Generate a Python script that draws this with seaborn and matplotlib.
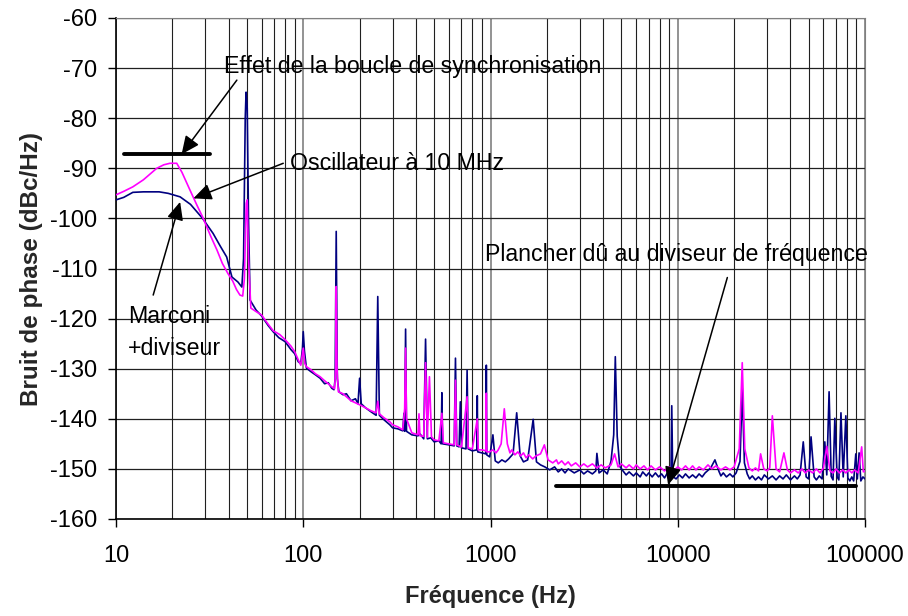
import pandas as pd
import matplotlib.pyplot as plt
import seaborn as sns
from matplotlib.ticker import FixedLocator, NullFormatter

# Marconi + diviseur (navy)
marconi_freq = [10, 11, 12.3, 14, 17, 19, 22, 25, 29, 33,
                36, 39, 41.6, 44.8, 47, 48, 49, 49.5, 50.2, 51,
                52, 56, 60, 65, 69, 74, 80, 86, 90, 94,
                97, 99, 100, 101.5, 104, 110, 116, 123, 130, 136,
                142, 146, 148, 150, 152, 155, 163, 170, 180, 190,
                196, 200, 204, 215, 230, 245, 250, 255, 270, 290,
                300, 320, 340, 345, 348, 352, 356, 380, 410, 420,
                440, 450, 460, 480, 500, 530, 545, 550, 555, 600,
                640, 650, 660, 680, 690, 700, 740, 750, 760, 800,
                845, 850, 855, 900, 945, 950, 955, 990, 1030, 1060,
                1100, 1150, 1200, 1250, 1320, 1380, 1440, 1500, 1580, 1690,
                1760, 1850, 1950, 2070, 2200, 2300, 2400, 2500, 2600, 2800,
                3000, 3150, 3300, 3500, 3650, 3700, 3800, 4000, 4200, 4400,
                4550, 4640, 4750, 4900, 5100, 5300, 5500, 5800, 6000, 6300,
                6500, 6800, 7000, 7300, 7600, 7900, 8200, 8500, 8800, 9200,
                9290, 9400, 9800, 10200, 10600, 11000, 11500, 12000, 12500, 13000,
                13500, 14000, 15000, 15800, 16600, 17000, 17500, 18200, 19000, 19700,
                20500, 21500, 22100, 22700, 23500, 24200, 25000, 26000, 27000, 28000,
                29000, 30500, 32000, 33500, 35000, 36500, 38000, 40000, 42000, 43500,
                45000, 46800, 48500, 50000, 51500, 53500, 55000, 57000, 59000, 61000,
                62500, 64300, 66000, 67500, 69000, 71000, 72500, 74400, 76500, 79000,
                81000, 83000, 85000, 87000, 89300, 91000, 93000, 95000, 97500, 100000]
marconi_level = [-96.3, -95.8, -94.8, -94.7, -94.7, -95.0, -95.7, -97.2, -100.0, -103.0,
                 -105.5, -107.7, -111.7, -112.7, -113.7, -108, -80, -74.8, -78, -100,
                 -116.3, -118.3, -119.5, -121.4, -122.6, -123.8, -124.6, -126.2, -127.0, -128.6,
                 -129.0, -126, -122.6, -126.5, -129.9, -130.6, -131.2, -131.9, -133.0, -132.8,
                 -133.9, -134.2, -132, -102.6, -132, -134.6, -135.2, -135.0, -136.4, -136.0,
                 -137.0, -131.9, -137.0, -137.8, -138.6, -139.3, -115.6, -139.3, -140.2, -141.2,
                 -141.8, -142.0, -142.4, -138.9, -142.5, -122.1, -142.5, -143.2, -143.4, -143.0,
                 -144.0, -124.1, -144.0, -143.8, -144.6, -144.4, -145, -134.8, -145, -145.2,
                 -145.4, -127.9, -145.4, -145.6, -136.6, -145.8, -146, -130.3, -146, -146.4,
                 -146.2, -135.4, -146.6, -146.8, -147, -129.3, -147.2, -147.6, -143.2, -148.4,
                 -148.8, -148.2, -148.6, -148.0, -147.0, -138.8, -147.4, -148.6, -148.2, -140.1,
                 -148.6, -149.2, -149.6, -150.2, -149.6, -150.6, -150.0, -150.8, -150.0, -150.8,
                 -150.2, -151.0, -150.4, -151.0, -150.4, -146.9, -150.8, -150.2, -151.0, -148.5,
                 -143.2, -127.6, -143.5, -149.5, -150.4, -151.2, -150.6, -151.4, -150.8, -151.6,
                 -150.6, -151.4, -150.8, -151.6, -150.8, -151.6, -151.0, -151.8, -150.8, -151.5,
                 -137.4, -151.5, -152.0, -151.2, -151.8, -151.0, -151.8, -151.2, -151.8, -151.0,
                 -151.6, -150.8, -149.8, -148.2, -150.5, -151.4, -150.8, -151.6, -151.0, -151.6,
                 -150.8, -148.5, -133.9, -148.8, -151.0, -152.0, -151.4, -152.2, -151.6, -152.2,
                 -151.2, -152.0, -151.4, -152.2, -151.4, -152.0, -151.2, -152.2, -151.4, -152.0,
                 -151.2, -144.6, -151.6, -152.0, -143.6, -151.6, -152.2, -151.4, -152.0, -144.6,
                 -151.2, -134.6, -151.5, -152.2, -139.9, -151.6, -152.2, -138.8, -151.6, -139.4,
                 -151.8, -152.4, -151.6, -152.4, -147, -152, -146.8, -152.4, -151.6, -152.0]

# Oscillateur a 10 MHz (magenta)
osc_freq = [10, 11, 12.3, 14, 16.5, 18, 19.4, 21.1, 22.5, 24.8,
            27, 29, 32, 34.6, 37, 39.6, 42, 44, 45.9, 47.5,
            48.5, 49.6, 50.2, 51, 52.5, 56, 60, 64, 69, 75,
            80, 86, 90, 94, 97, 100, 102, 104, 110, 116,
            123, 130, 136, 142, 147, 149, 150, 151.5, 154, 163,
            170, 180, 190, 200, 215, 230, 245, 250, 255, 270,
            290, 300, 320, 340, 348, 352, 356, 380, 410, 415,
            420, 440, 450, 460, 472, 484, 500, 530, 550, 560,
            600, 640, 650, 660, 700, 750, 760, 800, 850, 860,
            900, 945, 950, 955, 990, 1030, 1070, 1100, 1140, 1185,
            1230, 1270, 1300, 1350, 1400, 1450, 1500, 1550, 1600, 1680,
            1750, 1850, 1940, 2030, 2150, 2250, 2300, 2400, 2500, 2600,
            2700, 2850, 3000, 3150, 3300, 3500, 3700, 3900, 4100, 4400,
            4600, 4800, 5000, 5300, 5500, 5800, 6000, 6300, 6600, 6900,
            7200, 7600, 8000, 8500, 9000, 9500, 10000, 10500, 11000, 11500,
            12000, 12500, 13000, 13700, 14500, 15200, 16000, 17000, 18000, 19000,
            20000, 21300, 22100, 22800, 24000, 25000, 26000, 27000, 27700, 28800,
            30000, 31000, 32000, 33500, 35000, 36900, 38500, 40000, 42000, 44000,
            46000, 48000, 50000, 52500, 55000, 57500, 60000, 62500, 65000, 67500,
            70000, 73000, 76000, 79000, 82000, 85000, 88000, 92000, 96000, 98000,
            100000]
osc_level = [-95.3, -94.6, -93.7, -92.3, -90.0, -89.3, -89.0, -89.0, -90.8, -94.3,
             -97.3, -99.7, -103.5, -106.3, -109, -111.0, -112.5, -114.2, -115.3, -115.5,
             -112, -97, -96.3, -108, -117.9, -118.6, -119.3, -120.8, -122.4, -123.2,
             -124.2, -125.5, -126.6, -128.2, -129.3, -125.9, -129, -129.6, -130.2, -131.0,
             -131.6, -132.4, -133.0, -133.6, -134.0, -130, -113.6, -130, -134.6, -135.0,
             -135.6, -136.4, -136.8, -137.2, -137.8, -138.4, -138.8, -136.5, -139.0, -139.8,
             -140.6, -141.2, -141.6, -142.2, -138, -125.9, -140, -142.8, -143.2, -139,
             -143.4, -143.5, -128.8, -143.7, -131.6, -143.6, -144.2, -144.4, -138.9, -144.8,
             -145.0, -145.2, -132.3, -145.2, -145.6, -135.6, -145.8, -146.0, -140, -146.2,
             -146.2, -146.4, -134.9, -146.6, -146.6, -146.2, -146.8, -146.2, -145.0, -138.0,
             -145.0, -146.8, -146.2, -147.2, -146.6, -147.4, -146.8, -147.8, -147.2, -148.0,
             -147.4, -147.0, -145.2, -148.2, -148.8, -148.2, -149.0, -148.4, -149.2, -148.6,
             -149.4, -148.8, -149.6, -149.0, -149.6, -149.0, -149.8, -149.2, -149.8, -149.2,
             -147.0, -149.6, -149.0, -149.8, -149.2, -150.0, -149.2, -150.0, -149.4, -150.2,
             -149.4, -150.2, -149.6, -150.4, -149.6, -150.4, -149.6, -150.2, -149.4, -150.2,
             -149.4, -150.2, -149.6, -150.2, -149.2, -150.0, -149.4, -150.2, -149.6, -150.2,
             -149.6, -146, -128.8, -146, -149.8, -150.4, -149.8, -150.4, -147.0, -150.0,
             -150.4, -149.8, -139.4, -150.0, -150.6, -146.8, -150.2, -150.8, -150.2, -150.8,
             -150.0, -150.8, -150.2, -150.8, -150.0, -150.8, -149.8, -145.5, -150.4, -150.8,
             -150.0, -150.8, -150.2, -150.8, -150.2, -150.8, -150.2, -150.8, -145.6, -150.6,
             -150.4]

x_ticks = [10, 100, 1000, 10000, 100000]
x_tick_labels = ['10', '100', '1000', '10000', '100000']
y_ticks = list(range(-160, -50, 10))

df_marconi = pd.DataFrame({'freq': marconi_freq, 'level': marconi_level})
df_osc = pd.DataFrame({'freq': osc_freq, 'level': osc_level})

sns.set_style('white')
plt.rcParams['font.family'] = ['Liberation Sans', 'DejaVu Sans']
plt.rcParams['axes.unicode_minus'] = False

fig = plt.figure(figsize=(9.08, 6.16), dpi=100)
ax = fig.add_axes([116 / 908, 1 - 519 / 616, (865 - 116) / 908, (519 - 18) / 616])

sns.lineplot(data=df_marconi, x='freq', y='level', ax=ax, color='#000080', lw=1.2,
             sort=False, estimator=None, zorder=3)
sns.lineplot(data=df_osc, x='freq', y='level', ax=ax, color='#FF00FF', lw=1.2,
             sort=False, estimator=None, zorder=4)

ax.set_xscale('log')
ax.set_xlim(10, 100000)
ax.set_ylim(-160, -60)

ax.xaxis.set_major_locator(FixedLocator(x_ticks))
ax.set_xticklabels(x_tick_labels)
minor = [m * d for d in [10, 100, 1000, 10000] for m in range(2, 10)]
ax.xaxis.set_minor_locator(FixedLocator(minor))
ax.xaxis.set_minor_formatter(NullFormatter())
ax.set_yticks(y_ticks)

ax.grid(True, which='major', axis='y', color='#202020', lw=0.9)
ax.grid(True, which='major', axis='x', color='#808080', lw=1.2)
ax.grid(True, which='minor', axis='x', color='#202020', lw=0.8)
ax.set_axisbelow(True)

for s in ['top', 'right']:
    ax.spines[s].set_color('#808080')
for s in ['left', 'bottom']:
    ax.spines[s].set_color('black')
    ax.spines[s].set_linewidth(1.2)

ax.tick_params(axis='both', which='major', direction='out', length=5.5, width=1, colors='black',
               labelsize=17)
ax.tick_params(axis='y', pad=8, left=True)
ax.tick_params(axis='x', pad=13, bottom=True)
ax.tick_params(axis='x', which='minor', length=0)

ax.set_xlabel('Fréquence (Hz)', fontsize=17, fontweight='bold', labelpad=13)
ax.set_ylabel('Bruit de phase (dBc/Hz)', fontsize=17.5, fontweight='bold', labelpad=5)

# horizontal reference lines
ax.plot([11.07, 31.8], [-87.2, -87.2], color='black', lw=2.8, zorder=5)
ax.plot([2250, 89300], [-153.5, -153.5], color='black', lw=2.8, zorder=5)

arrow = dict(arrowstyle='-|>,head_length=0.55,head_width=0.25', mutation_scale=20,
             color='black', lw=1.1, shrinkA=0, shrinkB=0)
ax.annotate('', xy=(22.4, -87.2), xytext=(44.2, -72.4), arrowprops=arrow, zorder=6)
ax.annotate('', xy=(25.9, -96.0), xytext=(78.2, -89.0), arrowprops=arrow, zorder=6)
ax.annotate('', xy=(22.0, -96.7), xytext=(15.8, -115.3), arrowprops=arrow, zorder=6)
ax.annotate('', xy=(8880, -153.2), xytext=(18400, -111.8), arrowprops=arrow, zorder=6)

txt = dict(fontsize=16.7, ha='left', va='baseline', color='black', zorder=7)
ax.text(37.7, -71.0, 'Effet de la boucle de synchronisation', **txt)
ax.text(84.9, -90.3, 'Oscillateur à 10 MHz', **txt)
ax.text(11.6, -120.9, 'Marconi', **txt)
ax.text(11.6, -127.3, '+diviseur', **txt)
ax.text(934, -108.6, 'Plancher dû au diviseur de fréquence', **txt)

fig.savefig('out.png', dpi=100)
